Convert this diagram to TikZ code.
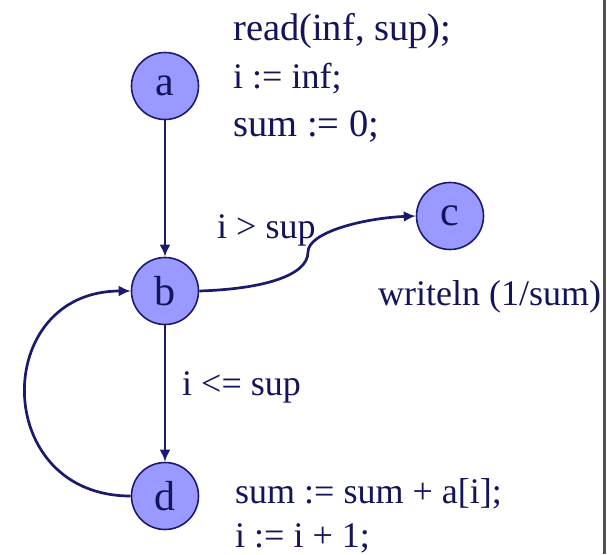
\documentclass[tikz,border=0pt]{standalone}
\usepackage{fontspec}
\setmainfont{Liberation Serif}
\usetikzlibrary{arrows.meta}
\definecolor{navyline}{HTML}{1A1A6E}
\definecolor{navytext}{HTML}{14145A}
\definecolor{nodefill}{HTML}{9999FF}
\definecolor{edgegray}{HTML}{505050}
\tikzset{
  vert/.style={circle,draw=navyline,line width=1.6pt,fill=nodefill,minimum size=67pt,inner sep=0pt,
    text=navytext,font=\fontsize{42}{44}\selectfont},
  edge/.style={draw=navyline,line width=2.7pt,-{Latex[length=12pt,width=11pt]}},
  code/.style={anchor=base west,inner sep=0pt,text=navytext,font=\fontsize{36}{40}\selectfont},
  codebig/.style={code,font=\fontsize{38.5}{42}\selectfont},
}
\begin{document}
\begin{tikzpicture}[x=1pt,y=-1pt]
\useasboundingbox (0,0) rectangle (607,554);
\fill[white] (0,0) rectangle (607,554);
\draw[edgegray,line width=3pt] (604.5,0) -- (604.5,554);
\node[vert] (a) at (165,86) {a};
\node[vert] (b) at (165,291) {b};
\node[vert] (c) at (450,216) {c};
\node[vert] (d) at (165,496) {d};
\draw[edge] (a) -- (b);
\draw[edge] (b) -- (d);
\coordinate (m) at (308,252);
\draw[edge] (b.east) .. controls (262,289) and (308,276) .. (m) .. controls (308,232) and (365,218) .. (c.west);
\draw[edge] (d.west) to[out=180,in=180,looseness=1.75] (b.west);
\node[codebig] (t1) at (233,40) {read(inf, sup);};
\node[code] (t2) at (233,88) {i := inf;};
\node[codebig] (t3) at (233,136) {sum := 0;};
\node[code] (t4) at (217,238) {i > sup};
\node[code] (t5) at (378,305) {writeln (1/sum)};
\node[code] (t6) at (182,395) {i <= sup};
\node[code] (t7) at (235,503) {sum := sum + a[i];};
\node[code] (t8) at (235,547) {i := i + 1;};
\end{tikzpicture}
\end{document}
